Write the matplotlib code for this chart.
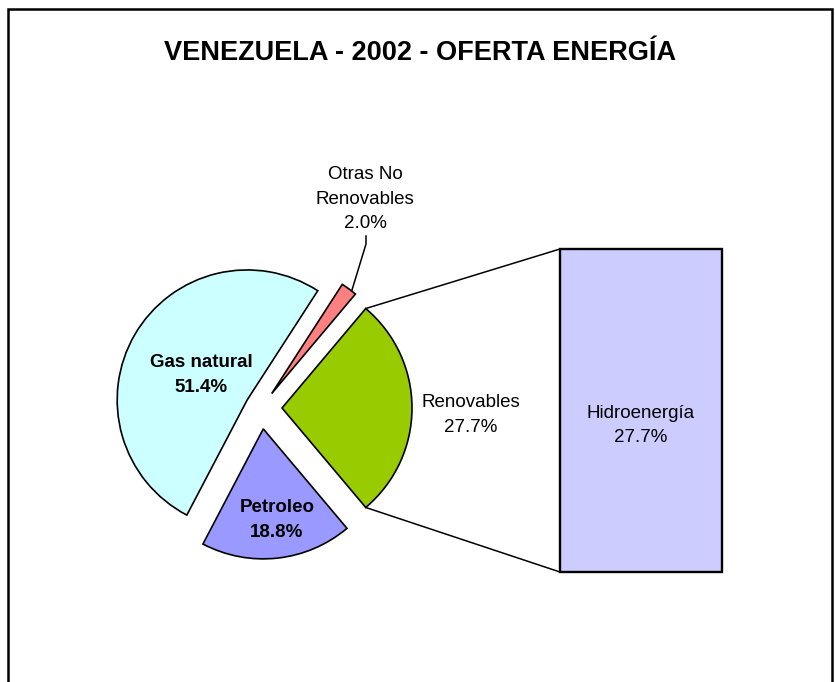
import matplotlib
matplotlib.use("Agg")
import matplotlib.pyplot as plt
import numpy as np

plt.rcParams['font.family'] = ['Liberation Sans', 'DejaVu Sans']

# datos de la oferta de energia 2002 (%)
etiquetas = ["Renovables", "Otras No\nRenovables", "Gas natural", "Petroleo"]
valores = [27.7, 2.0, 51.4, 18.8]
colores = ["#99CC00", "#FF8080", "#CCFFFF", "#9999FF"]
separacion = [21, 18, 16, 21]   # en pixeles, pie() no escala por el radio

# desglose de renovables en la barra
barra_etiquetas = ["Hidroenergía"]
barra_valores = [27.7]
barra_colores = ["#CCCCFF"]

W, H = 835, 682
fig = plt.figure(figsize=(W / 100, H / 100), dpi=100)
ax = fig.add_axes([0, 0, 1, 1])

def py(y):
    return H - y

total = sum(valores)
inicio = -valores[0] / total * 180.0

cuñas, _ = ax.pie(valores, explode=separacion, colors=colores,
                  startangle=inicio, counterclock=True, radius=130,
                  center=(261, py(408)), frame=True,
                  wedgeprops=dict(edgecolor="black", linewidth=1.2))

# barra de la derecha
x_barra, ancho_barra = 641, 162
base = py(572)
alto_total = 323
acum = base
for nombre, v, c in zip(barra_etiquetas, barra_valores, barra_colores):
    alto = v / sum(barra_valores) * alto_total
    ax.bar(x_barra, alto, width=ancho_barra, bottom=acum, color=c,
           edgecolor="black", linewidth=1.7, zorder=3)
    ax.text(x_barra, acum + alto / 2 - 15, "%s\n%.1f%%" % (nombre, v),
            ha="center", va="center", fontsize=13.5, linespacing=1.55,
            zorder=4)
    acum += alto

# lineas de union entre la porcion y la barra
w = cuñas[0]
cx, cy = w.center
for ang, yb in ((w.theta2, base + alto_total), (w.theta1, base)):
    x0 = cx + w.r * np.cos(np.radians(ang))
    y0 = cy + w.r * np.sin(np.radians(ang))
    ax.plot([x0, x_barra - ancho_barra / 2], [y0, yb], color="black",
            lw=1.1, zorder=2)

# etiquetas de las porciones
ax.text(471, py(415), "%s\n%.1f%%" % (etiquetas[0], valores[0]),
        ha="center", va="center", fontsize=13.5, linespacing=1.55)
ax.text(365, py(199), "%s\n%.1f%%" % (etiquetas[1], valores[1]),
        ha="center", va="center", fontsize=13.5, linespacing=1.55)
ax.plot([366, 366, 352], [py(236), py(244), py(290)], color="black", lw=1.1)
ax.text(201, py(375), "%s\n%.1f%%" % (etiquetas[2], valores[2]),
        ha="center", va="center", fontsize=13.5, fontweight="bold",
        linespacing=1.55)
ax.text(277, py(520), "%s\n%.1f%%" % (etiquetas[3], valores[3]),
        ha="center", va="center", fontsize=13.5, fontweight="bold",
        linespacing=1.55)

ax.text(420, py(53), "VENEZUELA - 2002 - OFERTA ENERGÍA", ha="center",
        va="center", fontsize=19.5, fontweight="bold")

ax.set_xlim(0, W)
ax.set_ylim(0, H)
ax.set_aspect("auto")
ax.axis("off")

# marco del grafico
ax.plot([8, 8, 832, 832], [-5, py(9), py(9), -5], color="black",
        lw=1.8, solid_joinstyle="miter", clip_on=False)

fig.savefig("out.png", dpi=100)
